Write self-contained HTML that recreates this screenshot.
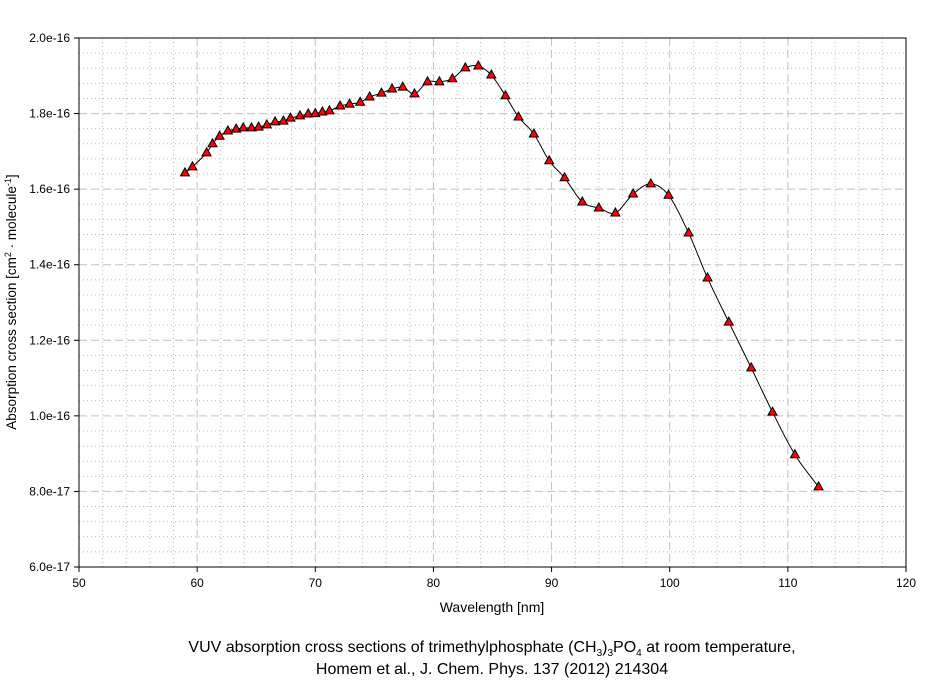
<!DOCTYPE html>
<html><head><meta charset="utf-8"><style>
body{margin:0;background:#fff;}
svg{display:block;font-family:"Liberation Sans",sans-serif;}
</style></head><body>
<svg id="chart" width="944" height="680" viewBox="0 0 944 680" xmlns="http://www.w3.org/2000/svg">
<rect width="944" height="680" fill="#fff"/>
<g id="grid"></g>
<g id="axes"></g>
<path id="curve" fill="none" stroke="#000" stroke-width="1"/>
<g id="marks"></g>
<text x="492" y="612" font-size="14" text-anchor="middle">Wavelength [nm]</text>
<text transform="translate(16,302) rotate(-90)" font-size="13.5" text-anchor="middle">Absorption cross section [cm<tspan font-size="9" dy="-5">2</tspan><tspan dy="5"> · molecule</tspan><tspan font-size="9" dy="-5">-1</tspan><tspan dy="5">]</tspan></text>
<text x="492" y="652" font-size="16" text-anchor="middle">VUV absorption cross sections of trimethylphosphate (CH<tspan font-size="10" dy="4">3</tspan><tspan dy="-4">)</tspan><tspan font-size="10" dy="4">3</tspan><tspan dy="-4">PO</tspan><tspan font-size="10" dy="4">4</tspan><tspan dy="-4"> at room temperature,</tspan></text>
<text x="492" y="674" font-size="16" text-anchor="middle">Homem et al., J. Chem. Phys. 137 (2012) 214304</text>
</svg>
<script>
const xs=[58.97,59.6,60.8,61.3,61.9,62.6,63.3,63.9,64.6,65.2,65.9,66.6,67.3,67.9,68.7,69.4,70.0,70.6,71.2,72.1,72.9,73.8,74.6,75.6,76.5,77.4,78.4,79.5,80.5,81.6,82.7,83.8,84.9,86.1,87.2,88.5,89.8,91.1,92.6,94.0,95.4,96.9,98.4,99.9,101.6,103.2,105.0,106.9,108.7,110.6,112.6];
const ys=[16.43,16.59,16.96,17.2,17.4,17.54,17.59,17.62,17.62,17.64,17.7,17.78,17.8,17.88,17.94,17.99,18.0,18.04,18.07,18.2,18.25,18.3,18.44,18.54,18.65,18.7,18.52,18.84,18.84,18.92,19.21,19.26,19.02,18.47,17.91,17.46,16.75,16.3,15.66,15.5,15.37,15.87,16.14,15.84,14.84,13.65,12.48,11.27,10.1,8.97,8.12];
const xTicks=[50,60,70,80,90,100,110,120];
const yTicks=[6,8,10,12,14,16,18,20];
const yTickLabels=["6.0e-17","8.0e-17","1.0e-16","1.2e-16","1.4e-16","1.6e-16","1.8e-16","2.0e-16"];
const L=79,R=906,T=38,B=567;
const X=v=>L+(v-50)/70*(R-L);
const Y=v=>B-(v-6)/14*(B-T);
const NS="http://www.w3.org/2000/svg";
function mk(tag,parent,attrs){const e=document.createElementNS(NS,tag);for(const k in attrs)e.setAttribute(k,attrs[k]);parent.appendChild(e);return e;}
const grid=document.getElementById('grid'),axes=document.getElementById('axes');
for(let v=50;v<=120;v+=2){if(v%10===0)continue;const l=mk('line',grid,{x1:X(v),x2:X(v),y1:T,y2:B,stroke:'#b8b8b8','stroke-dasharray':'1,3'});}
for(let i=0;i<=35;i++){const v=6+i*0.4;if(i%5===0)continue;const l=mk('line',grid,{x1:L,x2:R,y1:Y(v),y2:Y(v),stroke:'#b8b8b8','stroke-dasharray':'1,3'});}
xTicks.forEach(v=>{if(v>50&&v<120){const l=mk('line',grid,{x1:X(v),x2:X(v),y1:T,y2:B,stroke:'#c0c0c0','stroke-dasharray':'8,4'});}
 const t=mk('line',axes,{x1:X(v),x2:X(v),y1:B,y2:B+5,stroke:'#000'});
 const tx=mk('text',axes,{x:X(v),y:B+20,'font-size':12,'text-anchor':'middle'});tx.textContent=v;});
yTicks.forEach((v,i)=>{if(v>6&&v<20){const l=mk('line',grid,{x1:L,x2:R,y1:Y(v),y2:Y(v),stroke:'#c0c0c0','stroke-dasharray':'8,4'});}
 const t=mk('line',axes,{x1:L-5,x2:L,y1:Y(v),y2:Y(v),stroke:'#000'});
 const tx=mk('text',axes,{x:L-9,y:Y(v)+4,'font-size':12,'text-anchor':'end'});tx.textContent=yTickLabels[i];});
const fr=mk('rect',axes,{x:L,y:T,width:R-L,height:B-T,fill:'none',stroke:'#000'});

const P=xs.map((x,i)=>[X(x),Y(ys[i])]);
let d='M'+P[0][0]+','+P[0][1];
for(let i=0;i<P.length-1;i++){const p0=P[Math.max(0,i-1)],p1=P[i],p2=P[i+1],p3=P[Math.min(P.length-1,i+2)];
 d+=' C'+(p1[0]+(p2[0]-p0[0])/6)+','+(p1[1]+(p2[1]-p0[1])/6)+' '+(p2[0]-(p3[0]-p1[0])/6)+','+(p2[1]-(p3[1]-p1[1])/6)+' '+p2[0]+','+p2[1];}
document.getElementById('curve').setAttribute('d',d);
const marks=document.getElementById('marks');
P.forEach(p=>{const m=mk('polygon',marks,{points:`${p[0]},${p[1]-5} ${p[0]-4.5},${p[1]+3} ${p[0]+4.5},${p[1]+3}`,fill:'#ff0000',stroke:'#000','stroke-width':1});
 });
</script>
</body></html>
